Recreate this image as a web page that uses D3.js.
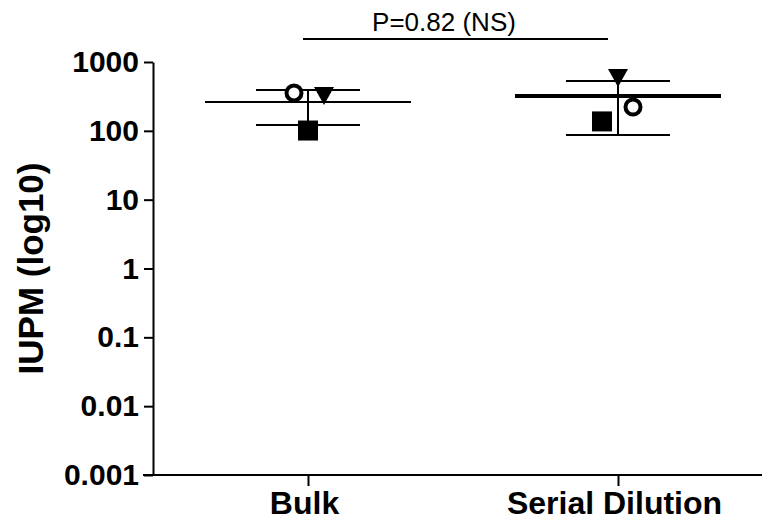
<!DOCTYPE html>
<html>
<head>
<meta charset="utf-8">
<script src="https://cdn.jsdelivr.net/npm/d3@7"></script>
<style>
  html, body { margin: 0; padding: 0; background: #fff; }
  svg { display: block; font-family: Arial, "Liberation Sans", sans-serif; }
</style>
</head>
<body>
<svg id="chart" width="762" height="525"></svg>
<script>
// data
var groups = ['Bulk', 'Serial Dilution'];
var shapes = ['circle', 'triangle', 'square'];
var bulkVals = [355, 321, 101];          // circle, triangle, square
var serialVals = [222, 586, 137];
var meanVals = [262, 321];               // horizontal mean line per group
var errLow = [122, 87];
var errHigh = [392, 529];
var yTicks = [0.001, 0.01, 0.1, 1, 10, 100, 1000];
var yTickLabels = ['0.001', '0.01', '0.1', '1', '10', '100', '1000'];
var pLabel = 'P=0.82 (NS)';

(function () {
  var svg = d3.select('#chart');
  var W = 762, H = 525;
  var left = 153, top = 62, bottom = 475;

  var y = d3.scaleLog().domain([0.001, 1000]).range([bottom, top]);
  var x = d3.scalePoint().domain(groups).range([308, 618]);

  // y axis
  var yAxis = d3.axisLeft(y).tickValues(yTicks)
    .tickFormat(function (d, i) { return yTickLabels[i]; })
    .tickSize(9).tickSizeOuter(0).tickPadding(5);
  var gy = svg.append('g').attr('transform', 'translate(' + left + ',0)').call(yAxis);
  gy.select('.domain').attr('stroke', '#000').attr('stroke-width', 2);
  gy.selectAll('.tick line').attr('stroke', '#000').attr('stroke-width', 2);
  gy.selectAll('.tick text').attr('fill', '#000')
    .style('font-size', '30px').style('font-weight', 'bold');

  // x axis
  var xAxis = d3.axisBottom(x).tickSize(11).tickSizeOuter(0).tickPadding(5);
  var gx = svg.append('g').attr('transform', 'translate(0,' + bottom + ')').call(xAxis);
  gx.select('.domain').remove();
  gx.append('line').attr('x1', left - 10).attr('x2', W).attr('y1', 0).attr('y2', 0)
    .attr('stroke', '#000').attr('stroke-width', 2);
  gx.selectAll('.tick line').attr('stroke', '#000').attr('stroke-width', 2);
  gx.selectAll('.tick text').attr('fill', '#000').attr('dx', -4)
    .style('font-size', '32px').style('font-weight', 'bold');

  // y label
  svg.append('text')
    .attr('transform', 'translate(43,' + ((top + bottom) / 2) + ') rotate(-90)')
    .attr('text-anchor', 'middle')
    .style('font-size', '35px').style('font-weight', 'bold')
    .text('IUPM (log10)');

  // mean + error bars
  var vals = [bulkVals, serialVals];
  var meanW = [2, 4];
  groups.forEach(function (gname, i) {
    var cx = x(gname);
    var g = svg.append('g');
    g.append('line').attr('x1', cx).attr('x2', cx)
      .attr('y1', y(errHigh[i])).attr('y2', y(errLow[i]))
      .attr('stroke', '#000').attr('stroke-width', 2);
    [errHigh[i], errLow[i]].forEach(function (v) {
      g.append('line').attr('x1', cx - 52).attr('x2', cx + 52)
        .attr('y1', y(v)).attr('y2', y(v))
        .attr('stroke', '#000').attr('stroke-width', 2);
    });
    g.append('line').attr('x1', cx - 103).attr('x2', cx + 103)
      .attr('y1', y(meanVals[i])).attr('y2', y(meanVals[i]))
      .attr('stroke', '#000').attr('stroke-width', meanW[i]);
  });

  // points (horizontal scatter offsets per shape)
  var offs = [
    { circle: -14, triangle: 16, square: 0 },
    { circle: 15, triangle: 0, square: -16 }
  ];
  groups.forEach(function (gname, i) {
    shapes.forEach(function (s, j) {
      var px = x(gname) + offs[i][s], py = y(vals[i][j]);
      if (s === 'circle') {
        svg.append('circle').attr('cx', px).attr('cy', py).attr('r', 7.5)
          .attr('fill', '#fff').attr('stroke', '#000').attr('stroke-width', 4);
      } else if (s === 'square') {
        svg.append('rect').attr('x', px - 10).attr('y', py - 10)
          .attr('width', 20).attr('height', 20).attr('fill', '#000');
      } else {
        svg.append('path')
          .attr('d', 'M' + (px - 10) + ',' + (py - 9) + 'L' + (px + 10) + ',' + (py - 9) + 'L' + px + ',' + (py + 9) + 'Z')
          .attr('fill', '#000');
      }
    });
  });

  // significance bracket
  svg.append('line').attr('x1', 303).attr('x2', 608).attr('y1', 39).attr('y2', 39)
    .attr('stroke', '#000').attr('stroke-width', 2);
  svg.append('text').attr('x', 444).attr('y', 31)
    .attr('text-anchor', 'middle').style('font-size', '26px')
    .text(pLabel);
})();
</script>
</body>
</html>
